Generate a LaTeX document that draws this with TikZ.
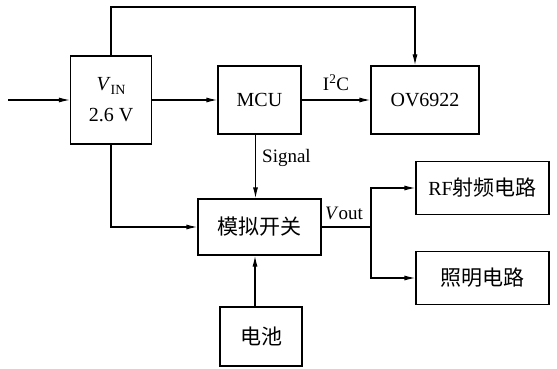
\documentclass[tikz,border=0pt]{standalone}
\usepackage{fontspec}
\setmainfont{Liberation Serif}
\newfontfamily\cjk{Noto Sans CJK SC}
\usetikzlibrary{arrows.meta}
\begin{document}
\begin{tikzpicture}[x=1pt,y=-1pt,
  box/.style={draw,line width=1.2pt,rectangle,inner sep=0pt,font=\fontsize{20}{24}\selectfont},
  arr/.style={line width=1.2pt,-{Latex[length=11pt,width=5pt]}},
  ln/.style={line width=1.2pt},
  lbl/.style={font=\fontsize{19}{22}\selectfont,inner sep=0pt}]
\useasboundingbox (0,0) rectangle (557,369);
\node[box,minimum width=81,minimum height=88,align=center] (vin) at (111,100) {\textit{V}\raisebox{-0.35ex}{\fontsize{14}{16}\selectfont IN}\\[7pt]2.6 V};
\node[box,minimum width=83,minimum height=68] (mcu) at (259.5,100) {MCU};
\node[box,minimum width=108,minimum height=68] (ov) at (425,100) {OV6922};
\node[box,minimum width=123,minimum height=56] (sw) at (259.5,227) {\cjk\fontsize{21}{24}\selectfont 模拟开关};
\node[box,minimum width=82,minimum height=59] (bat) at (261,336.5) {\cjk\fontsize{21}{24}\selectfont 电池};
\node[box,minimum width=133,minimum height=53] (rf) at (482.5,188) {RF{\cjk\fontsize{21}{24}\selectfont 射频电路}};
\node[box,minimum width=133,minimum height=53] (lt) at (482.5,278) {\cjk\fontsize{21}{24}\selectfont 照明电路};
\coordinate (in) at (8,100);
\coordinate (top) at (415,7);
\coordinate (br) at (371,227);
\draw[arr] (in) -- (vin.west);
\draw[arr] (vin.east) -- (mcu.west);
\draw[arr] (mcu.east) -- node[lbl,above=9pt] {I\textsuperscript{2}C} (ov.west);
\draw[arr] (vin.north) |- (top) -- (top |- ov.north);
\draw[arr] (vin.south) |- (sw.west);
\draw[arr] ([xshift=-4]mcu.south) -- ([xshift=-4]mcu.south |- sw.north);
\node[lbl,anchor=west] (sig) at (262,158) {Signal};
\draw[arr] ([xshift=-6]bat.north) -- ([xshift=-6]bat.north |- sw.south);
\draw[ln] (sw.east) -- (br);
\node[lbl] (vout) at (344,213) {\textit{V}out};
\draw[arr] (br) |- (rf.west);
\draw[arr] (br) |- (lt.west);
\end{tikzpicture}
\end{document}
